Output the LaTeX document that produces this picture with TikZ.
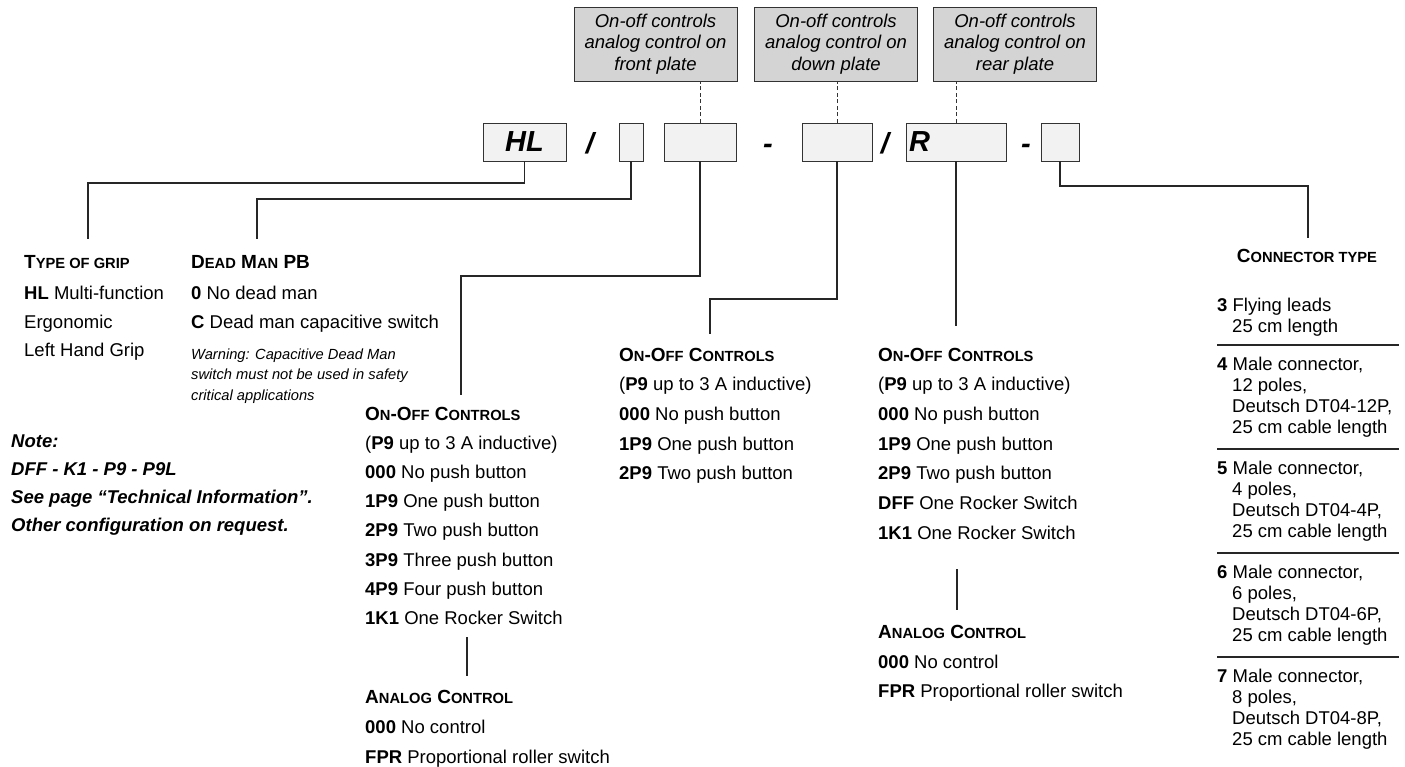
\documentclass[tikz,border=0pt]{standalone}
\usepackage{fontspec}
\setmainfont{Liberation Sans}

\definecolor{boxgray}{HTML}{D4D4D4}
\definecolor{codefill}{HTML}{F2F2F2}
\definecolor{linegray}{HTML}{333333}

% fake small caps: big first letter, smaller rest
\newcommand\hsc[2]{#1{\fontsize{14.7}{14.7}\selectfont #2}}

\tikzset{
  topbox/.style={draw=linegray, fill=boxgray, line width=0.9pt, minimum width=163pt,
    minimum height=74pt, inner sep=0pt, align=center,
    font=\fontsize{18.5}{21.5}\selectfont\itshape},
  codebox/.style={draw=linegray, fill=codefill, line width=0.9pt, minimum height=38pt,
    inner sep=0pt, font=\fontsize{29}{29}\selectfont\bfseries\itshape},
  sym/.style={anchor=base, inner sep=0pt, font=\fontsize{29}{29}\selectfont\bfseries\itshape},
  link/.style={draw=black!85, line width=1.1pt},
  dashline/.style={draw=black!80, line width=0.9pt, dash pattern=on 4pt off 2.5pt},
  head/.style={anchor=base west, inner sep=0pt, font=\fontsize{19}{19}\selectfont\bfseries},
  item/.style={anchor=base west, inner sep=0pt, font=\fontsize{18.5}{18.5}\selectfont},
  warn/.style={anchor=base west, inner sep=0pt, font=\fontsize{14.7}{14.7}\selectfont\itshape},
  note/.style={anchor=base west, inner sep=0pt, font=\fontsize{18.5}{18.5}\selectfont\bfseries\itshape},
}

\begin{document}
\begin{tikzpicture}[x=1pt, y=-1pt]
    \useasboundingbox (0,0) rectangle (1405,767);

    % plate boxes on top
    \node[topbox] (front) at (655.5,44) {On-off controls\\analog control on\\front plate};
    \node[topbox] (down) at (836,44) {On-off controls\\analog control on\\down plate};
    \node[topbox] (rear) at (1015,44) {On-off controls\\analog control on\\rear plate};

    % order code
    \node[codebox, minimum width=83pt] (hl) at (524.5,142) {HL};
    \node[sym] (sl1) at (590,154) {/};
    \node[codebox, minimum width=24pt] (dm) at (631,142) {};
    \node[codebox, minimum width=72pt] (fp) at (700,142) {};
    \node[sym] (da1) at (768,154) {-};
    \node[codebox, minimum width=70pt] (dp) at (837,142) {};
    \node[sym] (sl2) at (885,154) {/};
    \node[codebox, minimum width=100pt, text width=94pt, align=left] (rp) at (956,142) {R};
    \node[sym] (da2) at (1026,154) {-};
    \node[codebox, minimum width=38pt] (ct) at (1060,142) {};

    \draw[dashline] (fp.north) -- (fp.north |- front.south);
    \draw[dashline] (dp.north) -- (dp.north |- down.south);
    \draw[dashline] (rp.north) -- (rp.north |- rear.south);

    % type of grip
    \node[head] (grip) at (24,269) {\hsc{T}{YPE OF GRIP}};
    \node[item] (grip1) at (24,299) {\textbf{HL} Multi-function};
    \node[item] (grip2) at (24,328) {Ergonomic};
    \node[item] (grip3) at (24,356) {Left Hand Grip};

    % dead man
    \node[head] (dead) at (191,269) {\hsc{D}{EAD} \hsc{M}{AN} PB};
    \node[item] (dead1) at (191,299) {\textbf{0} No dead man};
    \node[item] (dead2) at (191,328) {\textbf{C} Dead man capacitive switch};
    \node[warn] (warn1) at (191,359) {Warning: Capacitive Dead Man};
    \node[warn] (warn2) at (191,379.5) {switch must not be used in safety};
    \node[warn] (warn3) at (191,400) {critical applications};

    % note
    \node[note] (note1) at (11,447) {Note:};
    \node[note] (note2) at (11,475) {DFF - K1 - P9 - P9L};
    \node[note] (note3) at (11,503) {See page “Technical Information”.};
    \node[note] (note4) at (11,531) {Other configuration on request.};

    % front plate
    \node[head] (fhead) at (365,420) {\hsc{O}{N}-\hsc{O}{FF} \hsc{C}{ONTROLS}};
    \foreach \t [count=\i] in {{(\textbf{P9} up to 3 A inductive)}, {\textbf{000} No push button},
        {\textbf{1P9} One push button}, {\textbf{2P9} Two push button}, {\textbf{3P9} Three push button},
        {\textbf{4P9} Four push button}, {\textbf{1K1} One Rocker Switch}}
      \node[item] (f\i) at (365,420+29.2*\i) {\t};
    \node[head] (fana) at (365,703) {\hsc{A}{NALOG} \hsc{C}{ONTROL}};
    \node[item] (fana1) at (365,733) {\textbf{000} No control};
    \node[item] (fana2) at (365,763) {\textbf{FPR} Proportional roller switch};

    % down plate
    \node[head] (dhead) at (619,361) {\hsc{O}{N}-\hsc{O}{FF} \hsc{C}{ONTROLS}};
    \foreach \t [count=\i] in {{(\textbf{P9} up to 3 A inductive)}, {\textbf{000} No push button},
        {\textbf{1P9} One push button}, {\textbf{2P9} Two push button}}
      \node[item] (d\i) at (619,361+29.7*\i) {\t};

    % rear plate
    \node[head] (rhead) at (878,361) {\hsc{O}{N}-\hsc{O}{FF} \hsc{C}{ONTROLS}};
    \foreach \t [count=\i] in {{(\textbf{P9} up to 3 A inductive)}, {\textbf{000} No push button},
        {\textbf{1P9} One push button}, {\textbf{2P9} Two push button},
        {\textbf{DFF} One Rocker Switch}, {\textbf{1K1} One Rocker Switch}}
      \node[item] (r\i) at (878,361+29.7*\i) {\t};
    \node[head] (rana) at (878,638) {\hsc{A}{NALOG} \hsc{C}{ONTROL}};
    \node[item] (rana1) at (878,668) {\textbf{000} No control};
    \node[item] (rana2) at (878,697) {\textbf{FPR} Proportional roller switch};

    % connector type
    \node[head, anchor=base] (conn) at (1307,262) {\hsc{C}{ONNECTOR TYPE}};
    \node[item] (c3a) at (1217,312) {\textbf{3} Flying leads};
    \node[item] (c3b) at (1232,332) {25 cm length};
    \foreach \n/\p/\d [count=\i from 0] in {4/12/12P, 5/4/4P, 6/6/6P, 7/8/8P} {
      \draw[link] (1217,345+104*\i) -- (1399,345+104*\i);
      \node[item] (c\n a) at (1217,370+104*\i) {\textbf{\n} Male connector,};
      \node[item] (c\n b) at (1232,391+104*\i) {\p\ poles,};
      \node[item] (c\n c) at (1232,412+104*\i) {Deutsch DT04-\d,};
      \node[item] (c\n d) at (1232,433+104*\i) {25 cm cable length};
    }

    % connectors
    \coordinate (k1) at (88,183);   \coordinate (e1) at (88,239);
    \coordinate (k2) at (257,199);  \coordinate (e2) at (257,239);
    \coordinate (k3) at (461,276);  \coordinate (e3) at (461,395);
    \coordinate (k4) at (710,299);  \coordinate (e4) at (710,334);
    \coordinate (e5) at (956,326);
    \coordinate (k6) at (1308,186); \coordinate (e6) at (1308,238);
    \draw[link] (hl.south) |- (k1) -- (e1);
    \draw[link] (dm.south) |- (k2) -- (e2);
    \draw[link] (fp.south) |- (k3) -- (e3);
    \draw[link] (dp.south) |- (k4) -- (e4);
    \draw[link] (rp.south) -- (e5);
    \draw[link] (ct.south) |- (k6) -- (e6);

    % on-off to analog
    \coordinate (fa1) at (467,637); \coordinate (fa2) at (467,676);
    \coordinate (ra1) at (957,569); \coordinate (ra2) at (957,610);
    \draw[link] (fa1) -- (fa2);
    \draw[link] (ra1) -- (ra2);
\end{tikzpicture}
\end{document}
